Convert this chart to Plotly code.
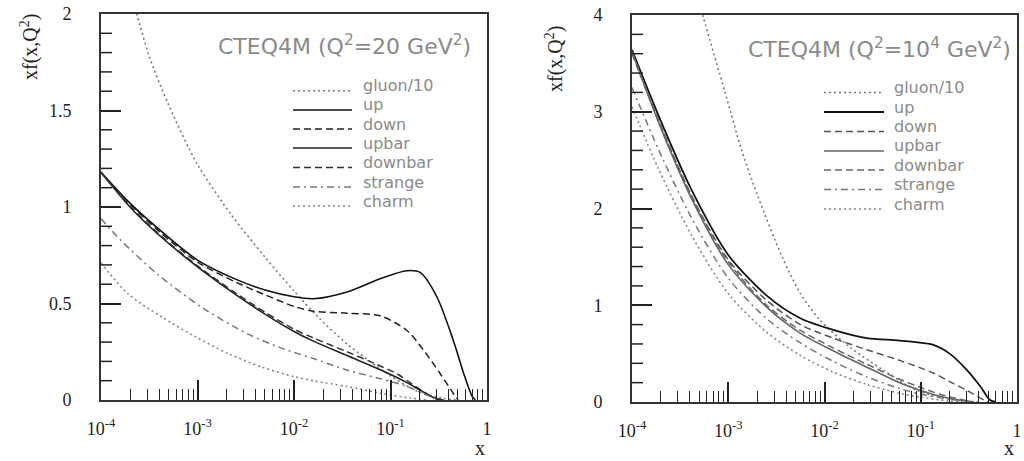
import plotly.graph_objects as go

W, H = 1024, 461

# ---------------- data (log10 x positions and xf values) -------------
# Left panel: CTEQ4M, Q^2 = 20 GeV^2
L_gluon_lx = [-3.75, -3.63, -3.5, -3.3, -3.0, -2.65, -2.3, -2.0, -1.75, -1.45, -1.0, -0.7, -0.45, -0.3]
L_gluon_y  = [2.2, 2.0, 1.78, 1.53, 1.22, 0.96, 0.74, 0.565, 0.43, 0.29, 0.125, 0.04, 0.008, 0.0]

L_up_lx = [-4.0, -3.7, -3.4, -3.0, -2.6, -2.3, -2.0, -1.8, -1.45, -1.1, -0.83, -0.69, -0.52, -0.35, -0.23, -0.155, -0.12]
L_up_y  = [1.18, 1.02, 0.885, 0.725, 0.625, 0.57, 0.535, 0.525, 0.56, 0.63, 0.67, 0.66, 0.535, 0.31, 0.12, 0.02, 0.0]

L_down_lx = [-4.0, -3.7, -3.4, -3.0, -2.6, -2.3, -2.0, -1.8, -1.45, -1.1, -0.83, -0.66, -0.49, -0.35, -0.3]
L_down_y  = [1.18, 1.015, 0.875, 0.715, 0.61, 0.545, 0.485, 0.46, 0.45, 0.435, 0.36, 0.26, 0.14, 0.035, 0.0]

L_upbar_lx = [-4.0, -3.7, -3.4, -3.0, -2.6, -2.3, -2.0, -1.8, -1.45, -1.1, -0.83, -0.69, -0.55, -0.45]
L_upbar_y  = [1.18, 1.0, 0.855, 0.69, 0.545, 0.445, 0.355, 0.305, 0.23, 0.155, 0.09, 0.05, 0.012, 0.0]

L_downbar_lx = [-4.0, -3.7, -3.4, -3.0, -2.6, -2.3, -2.0, -1.8, -1.45, -1.1, -0.93, -0.77, -0.6, -0.5]
L_downbar_y  = [1.18, 1.005, 0.86, 0.695, 0.553, 0.455, 0.367, 0.322, 0.25, 0.175, 0.135, 0.08, 0.025, 0.0]

L_strange_lx = [-4.0, -3.80, -3.41, -2.94, -2.47, -2.08, -1.8, -1.45, -1.1, -0.83, -0.6, -0.5]
L_strange_y  = [0.94, 0.83, 0.65, 0.475, 0.34, 0.26, 0.215, 0.155, 0.11, 0.07, 0.02, 0.0]

L_charm_lx = [-4.0, -3.72, -3.37, -3.03, -2.68, -2.33, -1.99, -1.8, -1.45, -1.1, -0.8, -0.6]
L_charm_y  = [0.71, 0.55, 0.43, 0.33, 0.24, 0.17, 0.12, 0.10, 0.07, 0.035, 0.01, 0.0]

# Right panel: CTEQ4M, Q^2 = 10^4 GeV^2
R_gluon_lx = [-3.32, -3.26, -3.03, -2.86, -2.69, -2.44, -2.25, -2.05, -1.74, -1.39, -1.04, -0.7, -0.4]
R_gluon_y  = [4.2, 3.98, 3.19, 2.60, 2.12, 1.50, 1.12, 0.85, 0.57, 0.33, 0.12, 0.03, 0.0]

R_up_lx = [-4.0, -3.72, -3.38, -3.0, -2.6, -2.25, -1.91, -1.56, -1.22, -0.87, -0.70, -0.52, -0.38, -0.28, -0.22]
R_up_y  = [3.64, 2.95, 2.19, 1.52, 1.10, 0.865, 0.745, 0.66, 0.635, 0.59, 0.50, 0.33, 0.16, 0.02, 0.0]

R_down_lx = [-4.0, -3.72, -3.38, -3.0, -2.6, -2.25, -1.91, -1.56, -1.22, -0.87, -0.70, -0.52, -0.38, -0.3]
R_down_y  = [3.6, 2.9, 2.13, 1.47, 1.05, 0.80, 0.66, 0.54, 0.43, 0.30, 0.21, 0.12, 0.04, 0.0]

R_upbar_lx = [-4.0, -3.72, -3.38, -3.0, -2.6, -2.25, -1.91, -1.56, -1.22, -1.0, -0.8, -0.6, -0.45]
R_upbar_y  = [3.62, 2.88, 2.10, 1.42, 0.98, 0.71, 0.53, 0.36, 0.20, 0.12, 0.06, 0.02, 0.0]

R_downbar_lx = [-4.0, -3.72, -3.38, -3.0, -2.6, -2.25, -1.91, -1.56, -1.22, -1.0, -0.8, -0.6, -0.45]
R_downbar_y  = [3.62, 2.90, 2.12, 1.45, 1.00, 0.74, 0.56, 0.39, 0.235, 0.15, 0.08, 0.03, 0.0]

R_strange_lx = [-4.0, -3.72, -3.38, -3.0, -2.6, -2.25, -1.91, -1.56, -1.22, -1.0, -0.7, -0.5]
R_strange_y  = [3.25, 2.60, 1.90, 1.28, 0.86, 0.61, 0.42, 0.26, 0.14, 0.08, 0.03, 0.0]

R_charm_lx = [-4.0, -3.72, -3.38, -3.0, -2.6, -2.25, -1.91, -1.56, -1.22, -1.0, -0.7, -0.5]
R_charm_y  = [3.05, 2.40, 1.72, 1.12, 0.72, 0.48, 0.31, 0.18, 0.09, 0.05, 0.01, 0.0]

names = ["gluon/10", "up", "down", "upbar", "downbar", "strange", "charm"]
x_tickvals = [1e-4, 1e-3, 1e-2, 1e-1, 1]
x_ticktext = ["10<sup>-4</sup>", "10<sup>-3</sup>", "10<sup>-2</sup>", "10<sup>-1</sup>", "1"]
left_minor_yticks = [0.1, 0.2, 0.3, 0.4, 0.6, 0.7, 0.8, 0.9, 1.1, 1.2, 1.3, 1.4, 1.6, 1.7, 1.8, 1.9]
right_minor_yticks = [0.2, 0.4, 0.6, 0.8, 1.2, 1.4, 1.6, 1.8, 2.2, 2.4, 2.6, 2.8, 3.2, 3.4, 3.6, 3.8]
left_title = "CTEQ4M (Q<sup>2</sup>=20 GeV<sup>2</sup>)"
right_title = "CTEQ4M (Q<sup>2</sup>=10<sup>4</sup> GeV<sup>2</sup>)"
y_title = "xf(x,Q<sup>2</sup>)"
x_title = "x"

# ---------------- styles ----------------
DOT = "2px,3px"
DASH = "7px,4px"
DASHDOT = "7px,4px,2px,4px"
left_styles = [("#7a7a7a", DOT, 1.6), ("#111111", "solid", 1.6), ("#222222", DASH, 1.5),
               ("#222222", "solid", 1.6), ("#333333", DASH, 1.5), ("#777777", DASHDOT, 1.5),
               ("#888888", DOT, 1.6)]
right_styles = [("#7a7a7a", DOT, 1.6), ("#111111", "solid", 1.8), ("#555555", DASH, 1.5),
                ("#666666", "solid", 1.6), ("#666666", DASH, 1.5), ("#777777", DASHDOT, 1.5),
                ("#888888", DOT, 1.6)]

left_data = [(L_gluon_lx, L_gluon_y), (L_up_lx, L_up_y), (L_down_lx, L_down_y),
             (L_upbar_lx, L_upbar_y), (L_downbar_lx, L_downbar_y),
             (L_strange_lx, L_strange_y), (L_charm_lx, L_charm_y)]
right_data = [(R_gluon_lx, R_gluon_y), (R_up_lx, R_up_y), (R_down_lx, R_down_y),
              (R_upbar_lx, R_upbar_y), (R_downbar_lx, R_downbar_y),
              (R_strange_lx, R_strange_y), (R_charm_lx, R_charm_y)]

# plot-area geometry (pixels)
L_X0, L_X1, L_Y0, L_Y1 = 101, 487, 400, 14
R_X0, R_X1, R_Y0, R_Y1 = 632, 1017, 402, 15
MINOR_LEN = 11  # px

fig = go.Figure()
for (lx, y), name, (c, d, w) in zip(left_data, names, left_styles):
    fig.add_trace(go.Scatter(x=[10 ** v for v in lx], y=y, mode="lines", name=name,
                             line=dict(color=c, dash=d, width=w, shape="spline", smoothing=0.8),
                             xaxis="x", yaxis="y", showlegend=False))
for (lx, y), name, (c, d, w) in zip(right_data, names, right_styles):
    fig.add_trace(go.Scatter(x=[10 ** v for v in lx], y=y, mode="lines", name=name,
                             line=dict(color=c, dash=d, width=w, shape="spline", smoothing=0.8),
                             xaxis="x2", yaxis="y2", showlegend=False))


# minor y ticks, drawn through the axes' scales as short line segments
def minor_tick_trace(vals, xaxis_id, yaxis_id, px_per_decade):
    x_end = 10 ** (-4 + MINOR_LEN / px_per_decade)
    xs, ys = [], []
    for v in vals:
        xs += [1e-4, x_end, None]
        ys += [v, v, None]
    return go.Scatter(x=xs, y=ys, mode="lines", xaxis=xaxis_id, yaxis=yaxis_id,
                      line=dict(color="#222", width=1.5), showlegend=False,
                      hoverinfo="skip", cliponaxis=False)


fig.add_trace(minor_tick_trace(left_minor_yticks, "x", "y", (L_X1 - L_X0) / 4))
fig.add_trace(minor_tick_trace(right_minor_yticks, "x2", "y2", (R_X1 - R_X0) / 4))


def px_x(p):
    return p / W


def px_y(p):
    return 1 - p / H


tickfont = dict(family="Liberation Serif", size=18, color="#222")


def xaxis(domain, anchor):
    return dict(domain=domain, anchor=anchor, type="log", range=[-4, 0],
                tickvals=x_tickvals, ticktext=x_ticktext, tickfont=tickfont,
                ticks="inside", ticklen=20, tickwidth=1.5, tickcolor="#222",
                minor=dict(ticks="inside", ticklen=11, tickwidth=1.3, tickcolor="#222",
                           dtick="D1"),
                showline=True, linecolor="#333", linewidth=2, mirror=True,
                showgrid=False, zeroline=False, ticklabelstandoff=11, automargin=False)


def yaxis(domain, anchor, rng, dt):
    return dict(domain=domain, anchor=anchor, range=rng, dtick=dt,
                tickfont=tickfont, ticks="inside", ticklen=20, tickwidth=1.6,
                tickcolor="#222",
                showline=True, linecolor="#333", linewidth=2, mirror=True,
                showgrid=False, zeroline=False, ticklabelstandoff=24, automargin=False)


fig.update_layout(
    width=W, height=H, margin=dict(l=0, r=0, t=0, b=0, autoexpand=False),
    paper_bgcolor="white", plot_bgcolor="white",
    xaxis=xaxis([px_x(L_X0), px_x(L_X1)], "y"),
    yaxis=yaxis([px_y(L_Y0), px_y(L_Y1)], "x", [0, 2], 0.5),
    xaxis2=xaxis([px_x(R_X0), px_x(R_X1)], "y2"),
    yaxis2=yaxis([px_y(R_Y0), px_y(R_Y1)], "x2", [0, 4], 1),
    showlegend=False,
)

shapes, ann = [], []

# ---------------- legend (drawn by hand: samples + labels) ----------------
legfont = dict(family="DejaVu Sans", size=16, color="#8a8a8a")
legends = [
    (left_styles, 293, 352, 361, [90.7, 110, 129, 148, 167.5, 187, 206]),
    (right_styles, 824, 884, 892, [92.5, 112, 131.5, 151, 170, 189.5, 209]),
]
for styles, xs0, xs1, xt, rows in legends:
    for (c, d, w), name, yr in zip(styles, names, rows):
        shapes.append(dict(type="line", xref="paper", yref="paper",
                           x0=px_x(xs0), x1=px_x(xs1), y0=px_y(yr), y1=px_y(yr),
                           line=dict(color=c, dash=d, width=w)))
        ann.append(dict(text=name, x=px_x(xt), y=px_y(yr - 5), xanchor="left",
                        yanchor="middle", font=legfont))

titlefont = dict(family="DejaVu Sans", size=22, color="#8a8a8a")
serif = dict(family="Liberation Serif", size=20, color="#222")
ann += [
    dict(text=left_title, x=px_x(473), y=px_y(45), xanchor="right", yanchor="middle", font=titlefont),
    dict(text=right_title, x=px_x(1013), y=px_y(48), xanchor="right", yanchor="middle", font=titlefont),
    dict(text=y_title, x=px_x(30), y=px_y(12), textangle=-90, xanchor="center", yanchor="top", font=serif),
    dict(text=y_title, x=px_x(555), y=px_y(24), textangle=-90, xanchor="center", yanchor="top", font=serif),
    dict(text=x_title, x=px_x(480), y=px_y(448), xanchor="center", yanchor="middle", font=serif),
    dict(text=x_title, x=px_x(1009), y=px_y(448), xanchor="center", yanchor="middle", font=serif),
]
for a in ann:
    a.update(xref="paper", yref="paper", showarrow=False)
fig.update_layout(annotations=ann, shapes=shapes)

fig.write_html("out.html")
